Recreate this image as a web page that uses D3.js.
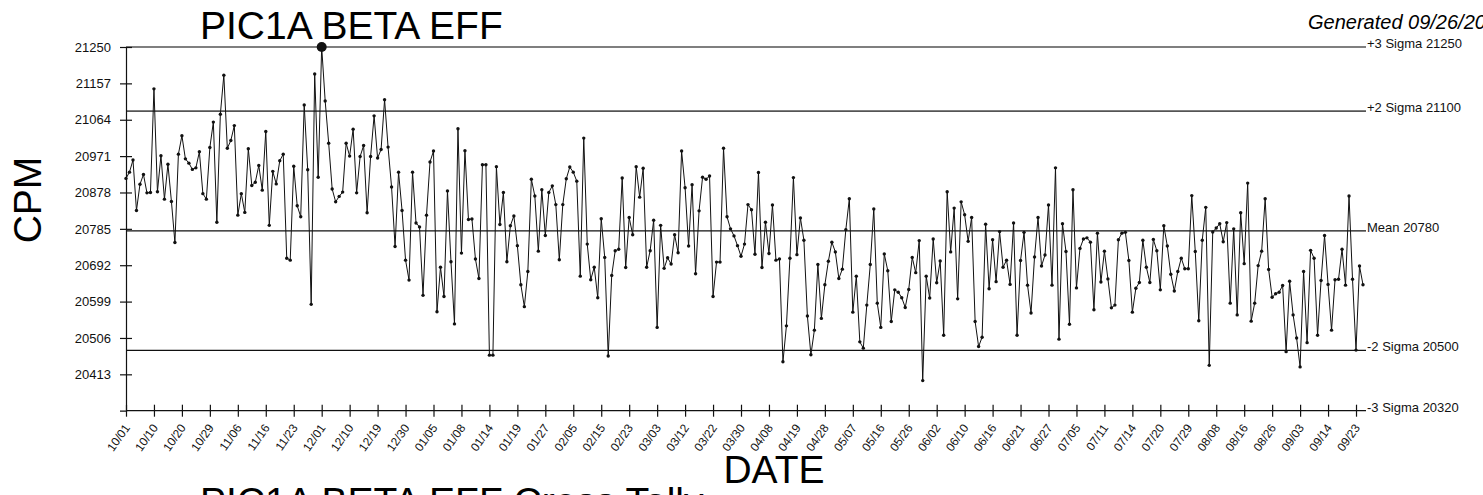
<!DOCTYPE html>
<html>
<head>
<meta charset="utf-8">
<script src="https://cdn.jsdelivr.net/npm/d3@7"></script>
<style>
    body { margin: 0; background: #fff; }
    svg { display: block; font-family: "Liberation Sans", Arial, sans-serif; }
</style>
</head>
<body>
<svg width="1483" height="495"></svg>
<script>
// daily CPM readings, 10/01 .. 09/25
const counts = [
    20914, 20930, 20961, 20832, 20899, 20924, 20877, 20878, 21143, 20880,
    20972, 20861, 20950, 20855, 20750, 20976, 21023, 20964, 20953, 20937,
    20941, 20982, 20875, 20861, 20993, 21058, 20802, 21078, 21178, 20991,
    21011, 21049, 20820, 20875, 20827, 20990, 20896, 20904, 20947, 20884,
    21034, 20794, 20932, 20900, 20959, 20976, 20710, 20705, 20945, 20844,
    20816, 21102, 20936, 20592, 21181, 20917, 21250, 21112, 21004, 20887,
    20854, 20868, 20879, 21004, 20971, 21040, 20877, 20970, 20998, 20826,
    20970, 21074, 20966, 20988, 21115, 20994, 20892, 20740, 20930, 20832,
    20705, 20654, 20930, 20800, 20790, 20615, 20820, 20956, 20984, 20573,
    20687, 20612, 20882, 20701, 20542, 21041, 20723, 20985, 20809, 20810,
    20708, 20658, 20949, 20949, 20462, 20462, 20944, 20796, 20878, 20701,
    20793, 20818, 20742, 20642, 20586, 20676, 20912, 20869, 20728, 20885,
    20768, 20878, 20895, 20847, 20706, 20847, 20913, 20943, 20930, 20907,
    20664, 21017, 20746, 20655, 20687, 20609, 20811, 20712, 20460, 20666,
    20729, 20733, 20915, 20686, 20814, 20770, 20944, 20866, 20940, 20687,
    20729, 20807, 20533, 20794, 20684, 20711, 20695, 20770, 20724, 20984,
    20890, 20741, 20898, 20670, 20831, 20917, 20912, 20920, 20612, 20700,
    20700, 20991, 20816, 20785, 20767, 20742, 20715, 20746, 20847, 20834,
    20720, 20929, 20686, 20802, 20722, 20846, 20705, 20708, 20445, 20537,
    20710, 20916, 20719, 20813, 20756, 20562, 20463, 20526, 20694, 20556,
    20642, 20702, 20751, 20726, 20658, 20682, 20783, 20862, 20572, 20664,
    20496, 20480, 20590, 20694, 20836, 20595, 20533, 20721, 20678, 20548,
    20629, 20623, 20609, 20584, 20630, 20712, 20673, 20755, 20397, 20664,
    20608, 20759, 20647, 20703, 20513, 20880, 20726, 20838, 20606, 20854,
    20821, 20753, 20814, 20548, 20484, 20508, 20797, 20632, 20757, 20650,
    20778, 20687, 20705, 20643, 20800, 20513, 20704, 20776, 20641, 20570,
    20713, 20814, 20690, 20718, 20846, 20641, 20941, 20503, 20798, 20727,
    20541, 20885, 20634, 20735, 20759, 20762, 20751, 20578, 20774, 20649,
    20728, 20657, 20583, 20590, 20757, 20774, 20776, 20704, 20572, 20633,
    20648, 20756, 20687, 20648, 20758, 20729, 20629, 20793, 20741, 20669,
    20626, 20676, 20710, 20683, 20683, 20870, 20727, 20550, 20756, 20840,
    20436, 20777, 20787, 20798, 20752, 20801, 20595, 20785, 20565, 20826,
    20696, 20902, 20549, 20595, 20691, 20728, 20862, 20681, 20610, 20619,
    20623, 20640, 20471, 20651, 20565, 20506, 20432, 20676, 20494, 20730,
    20710, 20513, 20653, 20768, 20643, 20526, 20655, 20656, 20733, 20641,
    20869, 20656, 20475, 20690, 20642
]

// one date label every 8 readings
const dateLabels = [
    '10/01', '10/10', '10/20', '10/29', '11/06', '11/16', '11/23', '12/01', '12/10',
    '12/19', '12/30', '01/05', '01/08', '01/14', '01/19', '01/27', '02/05', '02/15',
    '02/23', '03/03', '03/12', '03/22', '03/30', '04/08', '04/19', '04/28', '05/07',
    '05/16', '05/26', '06/02', '06/10', '06/16', '06/21', '06/27', '07/05', '07/11',
    '07/14', '07/20', '07/29', '08/08', '08/16', '08/26', '09/03', '09/14', '09/23'
]
const labelEvery = 8

const yTicks = [20413, 20506, 20599, 20692, 20785, 20878, 20971, 21064, 21157, 21250]

// control lines: where they sit and what they say
const limitValues = [21250, 21086, 20780, 20474, 20320]
const limitLabels = ['+3 Sigma 21250', '+2 Sigma 21100', 'Mean 20780', '-2 Sigma 20500', '-3 Sigma 20320']
const limitColors = ['#555', '#555', '#111', '#111', '#111']

var svg = d3.select('svg')

var x = d3.scaleLinear()
    .domain([0, counts.length - 1])
    .range([126, 1363])

var y = d3.scaleLinear()
    .domain([20320, 21250])
    .range([410.7, 47])

var lineEnd = 1366

// control limit lines
svg.append('g')
    .selectAll('line')
    .data(limitValues)
    .enter().append('line')
    .attr('x1', 126)
    .attr('x2', lineEnd)
    .attr('y1', d => y(d))
    .attr('y2', d => y(d))
    .attr('stroke', (d, i) => limitColors[i])
    .attr('stroke-width', (d, i) => i < 2 ? 1.6 : 1.2)

svg.append('g')
    .selectAll('text')
    .data(limitValues)
    .enter().append('text')
    .attr('x', lineEnd + 1)
    .attr('y', d => y(d) + 1)
    .attr('font-size', 13)
    .attr('fill', '#111')
    .text((d, i) => limitLabels[i])

// y axis
var yAxis = svg.append('g')
    .attr('transform', 'translate(126,0)')
    .call(d3.axisLeft(y).tickValues(yTicks).tickSize(6).tickPadding(9).tickFormat(d3.format('d')))

yAxis.select('.domain').attr('stroke', '#111').attr('stroke-width', 1.2)
yAxis.selectAll('.tick line').attr('x1', 6).attr('stroke', '#111').attr('stroke-width', 1.2)
yAxis.selectAll('.tick text')
    .attr('font-size', 13)
    .attr('font-family', '"Liberation Sans", Arial, sans-serif')
    .attr('fill', '#111')

// x axis, ticks cross the line
var tickIdx = dateLabels.map((d, i) => i * labelEvery)

var xAxis = svg.append('g')
    .attr('transform', 'translate(0,410.7)')
    .call(d3.axisBottom(x).tickValues(tickIdx).tickSize(6).tickFormat((d, i) => dateLabels[i]))

xAxis.select('.domain').remove()
xAxis.selectAll('.tick line').attr('y1', -6).attr('stroke', '#111').attr('stroke-width', 1.2)
xAxis.selectAll('.tick text')
    .attr('font-size', 12)
    .attr('font-family', '"Liberation Sans", Arial, sans-serif')
    .attr('fill', '#111')
    .attr('text-anchor', 'end')
    .attr('dy', 0)
    .attr('y', 0)
    .attr('transform', 'translate(4,17) rotate(-55)')

// the series
var line = d3.line()
    .x((d, i) => x(i))
    .y(d => y(d))

svg.append('path')
    .datum(counts)
    .attr('fill', 'none')
    .attr('stroke', '#111')
    .attr('stroke-width', 1)
    .attr('d', line)

svg.append('g')
    .selectAll('circle')
    .data(counts)
    .enter().append('circle')
    .attr('cx', (d, i) => x(i))
    .attr('cy', d => y(d))
    .attr('r', d => d >= limitValues[0] ? 5 : 1.7)
    .attr('fill', '#111')

// titles
svg.append('text')
    .attr('x', 200)
    .attr('y', 39)
    .attr('font-size', 39)
    .attr('fill', '#000')
    .text('PIC1A BETA EFF')

svg.append('text')
    .attr('x', 1308)
    .attr('y', 29)
    .attr('font-size', 20)
    .attr('font-style', 'italic')
    .attr('fill', '#000')
    .text('Generated 09/26/2024')

svg.append('text')
    .attr('transform', 'translate(41,200) rotate(-90)')
    .attr('text-anchor', 'middle')
    .attr('font-size', 39)
    .attr('fill', '#000')
    .text('CPM')

svg.append('text')
    .attr('x', 774)
    .attr('y', 483)
    .attr('text-anchor', 'middle')
    .attr('font-size', 39)
    .attr('fill', '#000')
    .text('DATE')

svg.append('text')
    .attr('x', 200)
    .attr('y', 515)
    .attr('font-size', 39)
    .attr('fill', '#000')
    .text('PIC1A BETA EFF Cross Tally')
</script>
</body>
</html>
